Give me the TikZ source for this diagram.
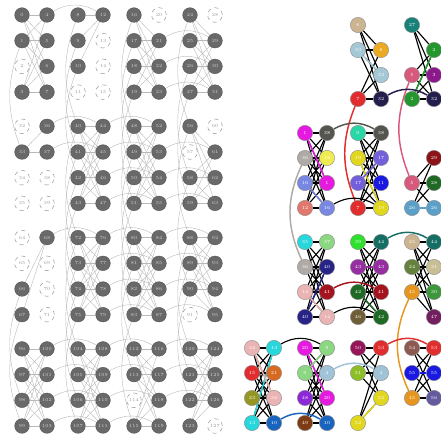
\documentclass[tikz,border=0pt]{standalone}
\usepackage{tikz}
\usetikzlibrary{arrows.meta,positioning}
\pgfdeclarelayer{back}
\pgfsetlayers{back,main}
\definecolor{qgray}{RGB}{105,105,105}
\definecolor{ctan}{RGB}{205,180,145}
\definecolor{clblue}{RGB}{165,200,215}
\definecolor{cred}{RGB}{225,45,45}
\definecolor{cgold}{RGB}{235,170,35}
\definecolor{cnavy}{RGB}{35,30,75}
\definecolor{cteal}{RGB}{25,130,120}
\definecolor{cgreen}{RGB}{35,150,45}
\definecolor{crose}{RGB}{215,90,125}
\definecolor{cpurp}{RGB}{140,25,140}
\definecolor{cmag}{RGB}{230,25,225}
\definecolor{cdgray}{RGB}{85,85,80}
\definecolor{csilver}{RGB}{175,170,165}
\definecolor{cyel}{RGB}{240,235,80}
\definecolor{cyeltwo}{RGB}{225,215,30}
\definecolor{cperi}{RGB}{120,135,225}
\definecolor{csalmon}{RGB}{225,120,110}
\definecolor{cmint}{RGB}{40,215,165}
\definecolor{cslate}{RGB}{115,95,220}
\definecolor{cblue}{RGB}{25,25,225}
\definecolor{cdred}{RGB}{140,20,25}
\definecolor{cdredtwo}{RGB}{165,20,30}
\definecolor{cdgreen}{RGB}{30,105,35}
\definecolor{csteel}{RGB}{90,160,200}
\definecolor{ccyan}{RGB}{40,215,220}
\definecolor{clgreen}{RGB}{140,215,130}
\definecolor{cnavytwo}{RGB}{40,35,135}
\definecolor{cpink}{RGB}{235,180,180}
\definecolor{cbgreen}{RGB}{45,225,45}
\definecolor{cdteal}{RGB}{20,110,100}
\definecolor{cviolet}{RGB}{150,45,160}
\definecolor{colive}{RGB}{110,95,55}
\definecolor{cmoss}{RGB}{100,130,60}
\definecolor{ckhaki}{RGB}{200,190,150}
\definecolor{corange}{RGB}{230,150,30}
\definecolor{cmgreen}{RGB}{60,150,60}
\definecolor{cplum}{RGB}{115,30,95}
\definecolor{cbrown}{RGB}{125,60,20}
\definecolor{cbluetwo}{RGB}{25,100,190}
\definecolor{colivey}{RGB}{150,150,35}
\definecolor{cdorange}{RGB}{215,105,35}
\definecolor{clbluetwo}{RGB}{160,195,215}
\definecolor{cviol}{RGB}{140,40,215}
\definecolor{cdmag}{RGB}{150,20,90}
\definecolor{cygreen}{RGB}{140,190,40}
\definecolor{cmauve}{RGB}{140,90,80}
\definecolor{cslatetwo}{RGB}{100,90,160}
\newcommand{\livelink}[3]{\ifcsname dead#2\endcsname\else\ifcsname dead#3\endcsname\else
  \draw[#1] (q#2) to (q#3);\fi\fi}

\begin{document}
\begin{tikzpicture}[x=0.75pt,y=-0.75pt,
  qubit/.code={\ifcsname dead#1\endcsname\pgfkeysalso{deadq}\else\pgfkeysalso{liveq}\fi},
  liveq/.style={circle,fill=qgray,draw=qgray!80!black,line width=0.3pt,minimum size=11pt,
    inner sep=0pt,font=\fontsize{3.5}{4}\selectfont,text=gray!35},
  deadq/.style={circle,fill=white,draw=gray!85,dashed,line width=0.35pt,minimum size=11pt,
    inner sep=0pt,font=\fontsize{3.5}{4}\selectfont,text=gray!80},
  coupler/.style={gray!55,line width=0.3pt},
  var/.style={circle,draw=black!45,line width=0.3pt,minimum size=11.5pt,inner sep=0pt,
    font=\fontsize{3.5}{4}\selectfont,text=white},
  link/.style={black,line width=0.85pt},
  chain/.style={line width=1.1pt}
]
  \useasboundingbox (0,0) rectangle (440,441);
  \foreach \d in {2,11,13,14,15,20,28,32,34,35,38,39,57,60,64,65,69,70,71,91,114,127}
    {\expandafter\gdef\csname dead\d\endcsname{}}

  % hardware graph
  \foreach \r in {0,...,3}
    \foreach \c in {0,...,3}
      \foreach \k in {0,...,3} {
        \pgfmathtruncatemacro\qa{32*\r+8*\c+\k}
        \pgfmathtruncatemacro\qb{\qa+4}
        \node[qubit=\qa] (q\qa) at ({22+56*\c},{15+111.3*\r+25.7*\k}) {\qa};
        \node[qubit=\qb] (q\qb) at ({47+56*\c},{15+111.3*\r+25.7*\k}) {\qb};
      }
  \begin{pgfonlayer}{back}
    \foreach \n in {0,...,15}
      \foreach \i in {0,...,3}
        \foreach \j in {0,...,3} {
          \pgfmathtruncatemacro\qa{8*\n+\i}
          \pgfmathtruncatemacro\qb{8*\n+4+\j}
          \livelink{coupler}{\qa}{\qb}
        }
    \foreach \n in {0,...,11}
      \foreach \k in {0,...,3} {
        \pgfmathtruncatemacro\qa{8*\n+\k}
        \pgfmathtruncatemacro\qb{8*\n+32+\k}
        \livelink{coupler,bend right=20}{\qa}{\qb}
      }
    \foreach \r in {0,...,3}
      \foreach \c in {0,...,2}
        \foreach \k in {0,...,3} {
          \pgfmathtruncatemacro\qa{32*\r+8*\c+4+\k}
          \pgfmathtruncatemacro\qb{\qa+8}
          \livelink{coupler,bend left=30}{\qa}{\qb}
        }
  \end{pgfonlayer}

  % embedding
  \node[var,fill=ctan] (aL0) at (358,25) {6};
  \node[var,fill=clblue] (aL1) at (358,50) {33};
  \node[var,fill=cred] (aL3) at (358,99) {7};
  \node[var,fill=cgold] (aR1) at (381,50) {8};
  \node[var,fill=clblue] (aR2) at (381,75) {33};
  \node[var,fill=cnavy] (aR3) at (381,99) {32};
  \node[var,fill=cteal] (bL0) at (412,25) {27};
  \node[var,fill=crose] (bL2) at (412,75) {5};
  \node[var,fill=cgreen] (bL3) at (412,99) {2};
  \node[var,fill=cgreen] (bR1) at (434,50) {2};
  \node[var,fill=cpurp] (bR2) at (434,75) {3};
  \node[var,fill=cnavy] (bR3) at (434,99) {32};

  \node[var,fill=cmag] (cL0) at (305,133) {1};
  \node[var,fill=csilver] (cL1) at (305,158) {36};
  \node[var,fill=cperi] (cL2) at (305,183) {16};
  \node[var,fill=csalmon] (cL3) at (305,208) {12};
  \node[var,fill=cdgray] (cR0) at (327,133) {38};
  \node[var,fill=cyel] (cR1) at (327,158) {18};
  \node[var,fill=cmag] (cR2) at (327,183) {1};
  \node[var,fill=cperi] (cR3) at (327,208) {16};
  \node[var,fill=cmint] (dL0) at (358,133) {0};
  \node[var,fill=cyeltwo] (dL1) at (358,158) {19};
  \node[var,fill=cslate] (dL2) at (358,183) {17};
  \node[var,fill=cred] (dL3) at (358,208) {7};
  \node[var,fill=cdgray] (dR0) at (381,133) {38};
  \node[var,fill=cslate] (dR1) at (381,158) {17};
  \node[var,fill=cblue] (dR2) at (381,183) {11};
  \node[var,fill=cyeltwo] (dR3) at (381,208) {19};
  \node[var,fill=crose] (eL2) at (412,183) {5};
  \node[var,fill=csteel] (eL3) at (412,208) {26};
  \node[var,fill=cdred] (eR1) at (434,158) {29};
  \node[var,fill=cdgreen] (eR2) at (434,183) {28};
  \node[var,fill=csteel] (eR3) at (434,208) {26};

  \node[var,fill=ccyan] (fL0) at (305,242) {35};
  \node[var,fill=csilver] (fL1) at (305,267) {36};
  \node[var,fill=cpink] (fL2) at (305,292) {14};
  \node[var,fill=cnavytwo] (fL3) at (305,317) {40};
  \node[var,fill=clgreen] (fR0) at (327,242) {37};
  \node[var,fill=cnavytwo] (fR1) at (327,267) {40};
  \node[var,fill=cdredtwo] (fR2) at (327,292) {41};
  \node[var,fill=cpink] (fR3) at (327,317) {14};
  \node[var,fill=cbgreen] (gL0) at (358,242) {39};
  \node[var,fill=cviolet] (gL1) at (358,267) {43};
  \node[var,fill=cdgreen] (gL2) at (358,292) {42};
  \node[var,fill=colive] (gL3) at (358,317) {46};
  \node[var,fill=cdteal] (gR0) at (381,242) {44};
  \node[var,fill=cviolet] (gR1) at (381,267) {43};
  \node[var,fill=cdredtwo] (gR2) at (381,292) {41};
  \node[var,fill=cdgreen] (gR3) at (381,317) {42};
  \node[var,fill=ctan] (hL0) at (412,242) {25};
  \node[var,fill=cmoss] (hL1) at (412,267) {24};
  \node[var,fill=corange] (hL2) at (412,292) {45};
  \node[var,fill=cdteal] (hR0) at (434,242) {44};
  \node[var,fill=ckhaki] (hR1) at (434,267) {31};
  \node[var,fill=cmgreen] (hR2) at (434,292) {30};
  \node[var,fill=cplum] (hR3) at (434,317) {47};

  \node[var,fill=cpink] (iL0) at (252,348) {34};
  \node[var,fill=cred] (iL1) at (252,373) {15};
  \node[var,fill=colivey] (iL2) at (252,398) {23};
  \node[var,fill=ccyan] (iL3) at (252,423) {13};
  \node[var,fill=ccyan] (iR0) at (274,348) {13};
  \node[var,fill=cdorange] (iR1) at (274,373) {21};
  \node[var,fill=cpink] (iR2) at (274,398) {34};
  \node[var,fill=cbluetwo] (iR3) at (274,423) {10};
  \node[var,fill=cmag] (jL0) at (305,348) {20};
  \node[var,fill=clgreen] (jL1) at (305,373) {9};
  \node[var,fill=cviol] (jL2) at (305,398) {48};
  \node[var,fill=cbrown] (jL3) at (305,423) {49};
  \node[var,fill=clgreen] (jR0) at (327,348) {9};
  \node[var,fill=clbluetwo] (jR1) at (327,373) {4};
  \node[var,fill=cmag] (jR2) at (327,398) {20};
  \node[var,fill=cbluetwo] (jR3) at (327,423) {10};
  \node[var,fill=cdmag] (kL0) at (358,348) {50};
  \node[var,fill=cygreen] (kL1) at (358,373) {51};
  \node[var,fill=cyeltwo] (kL3) at (358,423) {52};
  \node[var,fill=cred] (kR0) at (381,348) {53};
  \node[var,fill=clbluetwo] (kR1) at (381,373) {4};
  \node[var,fill=cyeltwo] (kR2) at (381,398) {52};
  \node[var,fill=cmauve] (lL0) at (412,348) {54};
  \node[var,fill=cblue] (lL1) at (412,373) {55};
  \node[var,fill=corange] (lL2) at (412,398) {45};
  \node[var,fill=cred] (lR0) at (434,348) {53};
  \node[var,fill=cblue] (lR1) at (434,373) {55};
  \node[var,fill=cslatetwo] (lR2) at (434,398) {56};

  \begin{pgfonlayer}{back}
    \foreach \cl in {a,b,c,d,e,f,g,h,i,j,k,l}
      \foreach \i in {0,...,3}
        \foreach \j in {0,...,3} {
          \ifcsname pgf@sh@ns@\cl L\i\endcsname\ifcsname pgf@sh@ns@\cl R\j\endcsname
            \draw[link] (\cl L\i) -- (\cl R\j);
          \fi\fi
        }
    \draw[chain,clblue] (aL1) -- (aR2);
    \draw[chain,cgreen] (bR1) -- (bL3);
    \draw[chain,cmag] (cL0) -- (cR2);
    \draw[chain,cperi] (cL2) -- (cR3);
    \draw[chain,cyeltwo] (dL1) -- (dR3);
    \draw[chain,cslate] (dR1) -- (dL2);
    \draw[chain,csteel] (eL3) -- (eR3);
    \draw[chain,cnavytwo] (fR1) -- (fL3);
    \draw[chain,cpink] (fL2) -- (fR3);
    \draw[chain,cviolet] (gL1) -- (gR1);
    \draw[chain,cdgreen] (gL2) -- (gR3);
    \draw[chain,ccyan] (iR0) -- (iL3);
    \draw[chain,cpink] (iL0) -- (iR2);
    \draw[chain,cmag] (jL0) -- (jR2);
    \draw[chain,clgreen] (jL1) -- (jR0);
    \draw[chain,cyeltwo] (kR2) -- (kL3);
    \draw[chain,cblue] (lL1) -- (lR1);
    \draw[chain,cred] (aL3) to[bend right=22] (dL3);
    \draw[chain,crose] (bL2) to[bend right=22] (eL2);
    \draw[chain,csilver] (cL1) to[bend right=25] (fL1);
    \draw[chain,corange] (hL2) to[bend right=25] (lL2);
    \draw[chain,cnavy] (aR3) to[bend left=30] (bR3);
    \draw[chain,cdgray] (cR0) to[bend left=30] (dR0);
    \draw[link] (cR3) to[bend left=30] (dR3);
    \draw[chain,cdredtwo] (fR2) to[bend left=30] (gR2);
    \draw[link] (fR3) to[bend left=30] (gR3);
    \draw[chain,cdteal] (gR0) to[bend left=30] (hR0);
    \draw[link] (iR0) to[bend left=30] (jR0);
    \draw[chain,cbluetwo] (iR3) to[bend left=30] (jR3);
    \draw[chain,clbluetwo] (jR1) to[bend left=30] (kR1);
    \draw[chain,cred] (kR0) to[bend left=30] (lR0);
  \end{pgfonlayer}
\end{tikzpicture}
\end{document}
